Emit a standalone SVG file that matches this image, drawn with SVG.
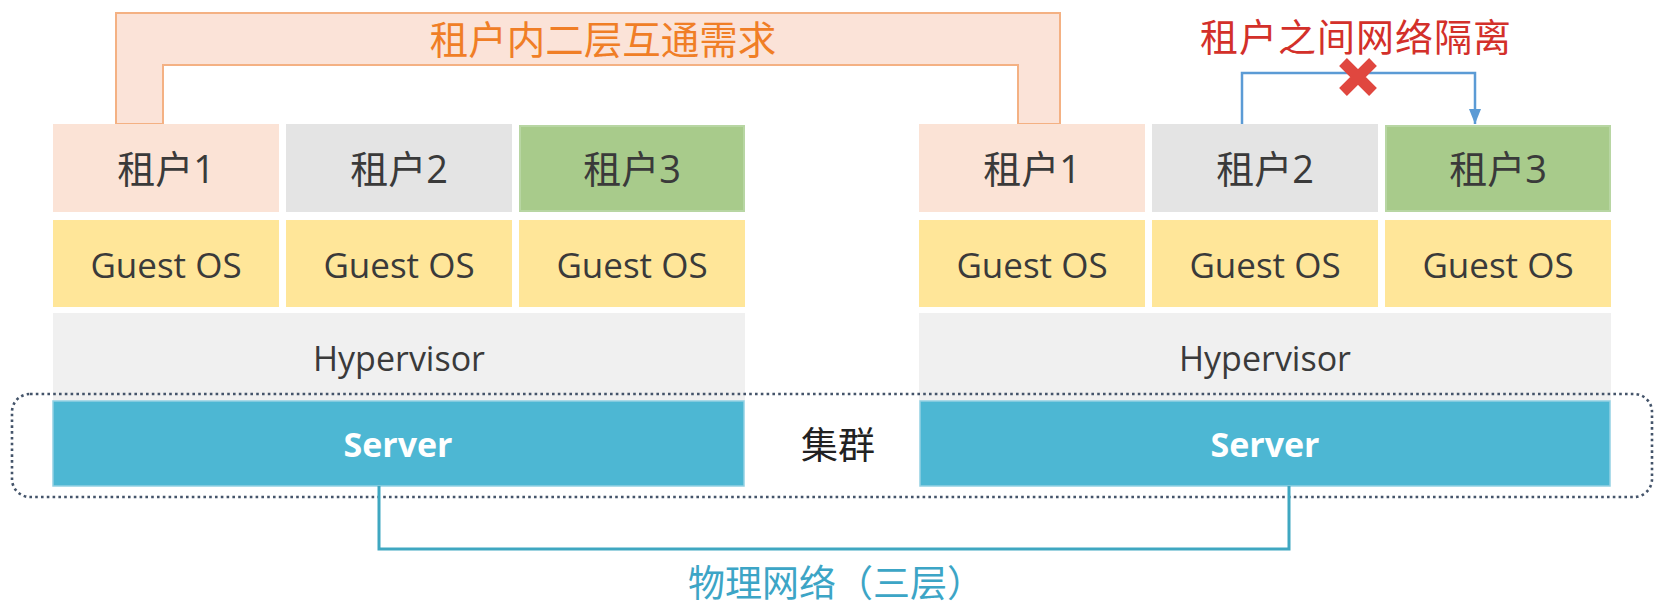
<svg xmlns="http://www.w3.org/2000/svg" width="1654" height="608" viewBox="0 0 1654 608">
<defs>
<style>
.t{font-family:"Open Sans","Noto Sans CJK SC",sans-serif;fill:#3a3a3a;text-anchor:middle}
.cjk{font-family:"Noto Sans CJK SC","Open Sans",sans-serif}
.ten{font-size:38px}
.os{font-size:35px}
.hv{font-size:34px}
.sv{font-size:34px;font-weight:bold;fill:#ffffff}
.t1{fill:#FBE3D6}
.t2{fill:#E4E4E4}
.t3{fill:#A8CB8B;stroke:#B8D6A3;stroke-width:2}
.g{fill:#FFE699}
.h{fill:#F0F0F0}
.s{fill:#4DB7D3;stroke:#93D1E3;stroke-width:1.5}
</style>
<marker id="arr" markerUnits="userSpaceOnUse" markerWidth="16" markerHeight="14" refX="15" refY="7" orient="auto" viewBox="0 0 16 14">
<path d="M0 1 L15 7 L0 13 Z" fill="#5B9BD5"/>
</marker>
</defs>
<rect width="1654" height="608" fill="#ffffff"/>

<g id="intra-tenant-band">
<path d="M116 124 V13 H1060 V124 H1018 V65 H163 V124 Z" fill="#FBE3D8" stroke="#F4B183" stroke-width="2"/>
<text class="t cjk" x="603" y="54" style="font-size:38.5px;fill:#F07E26">租户内二层互通需求</text>
</g>

<g id="left-server">
<g id="l-tenant1"><rect class="t1" x="53" y="124" width="226" height="88"/><text class="t ten" x="166" y="183"><tspan class="cjk">租户</tspan>1</text></g>
<g id="l-tenant2"><rect class="t2" x="286" y="124" width="226" height="88"/><text class="t ten" x="399" y="183"><tspan class="cjk">租户</tspan>2</text></g>
<g id="l-tenant3"><rect class="t3" x="520" y="126" width="224" height="85"/><text class="t ten" x="632" y="183"><tspan class="cjk">租户</tspan>3</text></g>
<g id="l-os1"><rect class="g" x="53" y="220" width="226" height="87"/><text class="t os" x="166" y="278">Guest OS</text></g>
<g id="l-os2"><rect class="g" x="286" y="220" width="226" height="87"/><text class="t os" x="399" y="278">Guest OS</text></g>
<g id="l-os3"><rect class="g" x="519" y="220" width="226" height="87"/><text class="t os" x="632" y="278">Guest OS</text></g>
<g id="l-hypervisor"><rect class="h" x="53" y="313" width="692" height="88"/><text class="t hv" x="399" y="371">Hypervisor</text></g>
<g id="l-server"><rect class="s" x="53" y="401" width="691" height="85"/><text class="t sv" x="398" y="457">Server</text></g>
</g>

<g id="right-server">
<g id="r-tenant1"><rect class="t1" x="919" y="124" width="226" height="88"/><text class="t ten" x="1032" y="183"><tspan class="cjk">租户</tspan>1</text></g>
<g id="r-tenant2"><rect class="t2" x="1152" y="124" width="226" height="88"/><text class="t ten" x="1265" y="183"><tspan class="cjk">租户</tspan>2</text></g>
<g id="r-tenant3"><rect class="t3" x="1386" y="126" width="224" height="85"/><text class="t ten" x="1498" y="183"><tspan class="cjk">租户</tspan>3</text></g>
<g id="r-os1"><rect class="g" x="919" y="220" width="226" height="87"/><text class="t os" x="1032" y="278">Guest OS</text></g>
<g id="r-os2"><rect class="g" x="1152" y="220" width="226" height="87"/><text class="t os" x="1265" y="278">Guest OS</text></g>
<g id="r-os3"><rect class="g" x="1385" y="220" width="226" height="87"/><text class="t os" x="1498" y="278">Guest OS</text></g>
<g id="r-hypervisor"><rect class="h" x="919" y="313" width="692" height="88"/><text class="t hv" x="1265" y="371">Hypervisor</text></g>
<g id="r-server"><rect class="s" x="920" y="401" width="690" height="85"/><text class="t sv" x="1265" y="457">Server</text></g>
</g>

<g id="cluster">
<rect x="12" y="394" width="1640" height="103" rx="18" ry="18" fill="none" stroke="#44546A" stroke-width="2.6" stroke-dasharray="2.6 3.2"/>
<text class="t cjk" x="838" y="459" style="font-size:37px;fill:#222">集群</text>
</g>

<g id="connectors">
<path d="M379 486 V549 H1289 V486" fill="none" stroke="#3FA7C1" stroke-width="3"/>
<path d="M1242 124 V73 H1475 V124" fill="none" stroke="#5B9BD5" stroke-width="2.5" marker-end="url(#arr)"/>
<path d="M1343 62 L1373 92 M1373 62 L1343 92" stroke="#E0473F" stroke-width="11" fill="none"/>
</g>

<g id="labels">
<text class="t cjk" x="1356" y="51" style="font-size:38px;fill:#D3302A;letter-spacing:1px">租户之间网络隔离</text>
<text class="t cjk" x="836" y="597" style="font-size:37px;fill:#3CA5C6">物理网络（三层）</text>
</g>
</svg>
